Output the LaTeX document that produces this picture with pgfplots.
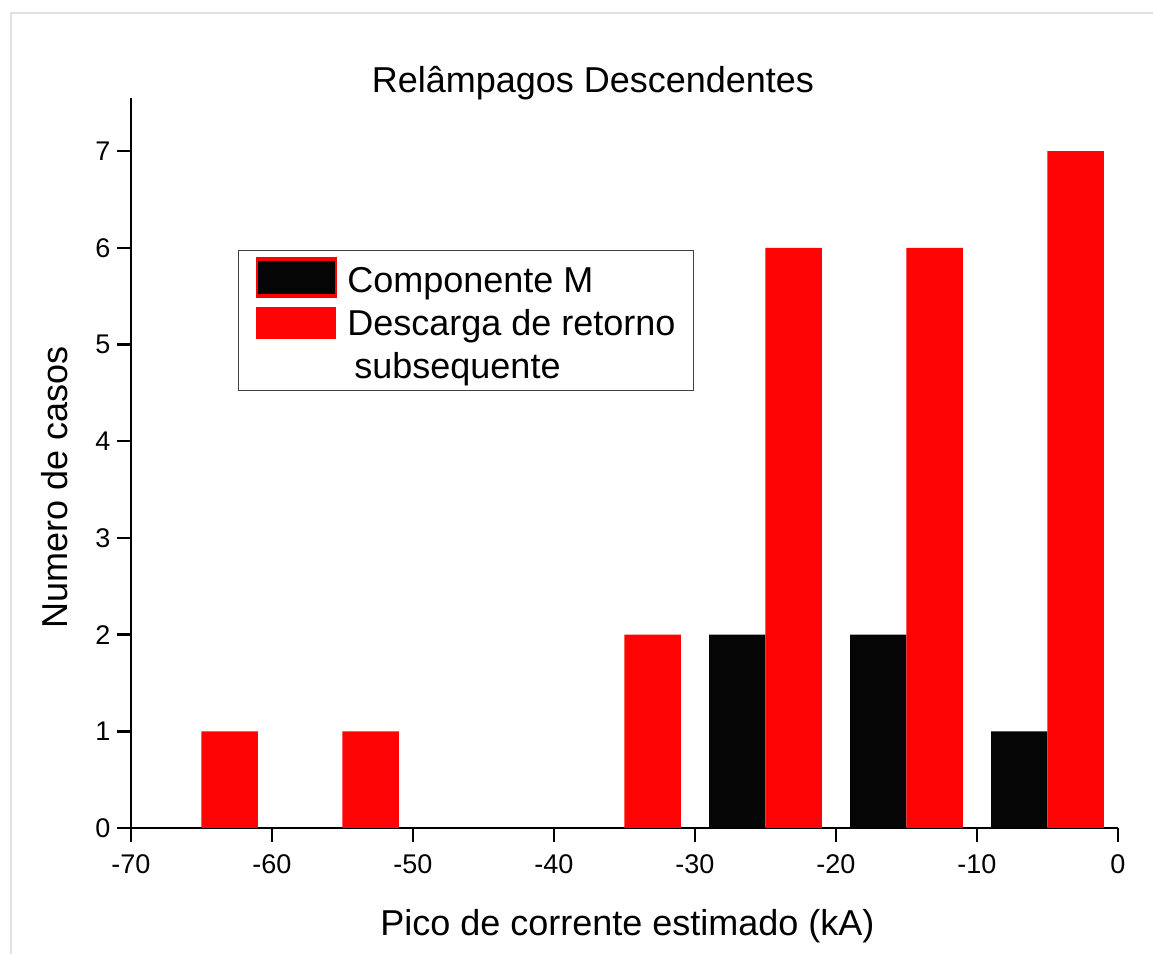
\documentclass[border=0pt]{standalone}
\usepackage{fontspec}
\setmainfont{Liberation Sans}
\usepackage{pgfplots}
\pgfplotsset{compat=1.18}
\definecolor{barred}{RGB}{255,4,4}
\definecolor{barblack}{RGB}{5,5,5}
\begin{document}
\begin{tikzpicture}
\useasboundingbox (-65.5pt,-63pt) rectangle (511pt,414pt);
\draw[black!12, line width=1.2pt] (-60pt,-63pt) -- (-60pt,407.5pt) -- (511pt,407.5pt);
\begin{axis}[
  at={(0,0)}, anchor=south west, scale only axis,
  width=493.5pt, height=365pt,
  xmin=-70, xmax=0, ymin=0, ymax=7.55,
  axis x line=bottom, axis y line=left,
  axis line style={-, line width=1.2pt, black},
  xtick={-70,-60,...,0}, ytick={0,1,...,7},
  minor tick num=0,
  tick align=outside, major tick length=6.75pt,
  tick style={line width=1.2pt, black},
  tick label style={font=\fontsize{13.5}{15}\selectfont},
  xticklabel style={yshift=-3pt},
  /pgf/number format/assume math mode=true,
  title={Relâmpagos Descendentes},
  every axis title/.style={at={(axis description cs:0.468,1.0206)}, anchor=center, font=\fontsize{18}{21}\selectfont},
  xlabel={Pico de corrente estimado (kA)},
  xlabel style={at={(axis description cs:0.503,-0.1345)}, anchor=center, font=\fontsize{18}{21}\selectfont},
  ylabel={Numero de casos},
  ylabel style={at={(axis description cs:-0.077,0.467)}, anchor=center, font=\fontsize{18}{21}\selectfont},
  legend style={at={(axis description cs:0.108,0.792)}, anchor=north west,
    draw=black!75, line width=0.8pt, inner xsep=9pt, inner ysep=5pt,
    row sep=4.5pt, column sep=5.5pt,
    font=\fontsize{18}{21}\selectfont,
    nodes={inner sep=0pt, text height=16pt, text depth=1pt}},
  legend cell align=left,
]
\addplot[ybar, bar width=4, bar shift=0pt, fill=barblack, draw=none,
  legend image code/.code={
    \path (0pt,0pt) -- (40pt,0pt);
    \draw[overlay, red, line width=0.5pt] (0pt,-10pt) rectangle (40pt,10pt);
    \fill[overlay, barblack] (0.6pt,-8.2pt) rectangle (39.4pt,8.2pt);}]
  coordinates {(-27,2) (-17,2) (-7,1)};
\addlegendentry{Componente M}
\addplot[ybar, bar width=4, bar shift=0pt, fill=barred, draw=none,
  legend image code/.code={
    \path (0pt,0pt) -- (40pt,0pt);
    \fill[overlay, barred] (0pt,-9pt) rectangle (40pt,7pt);}]
  coordinates {(-63,1) (-53,1) (-33,2) (-23,6) (-13,6) (-3,7)};
\addlegendentry{Descarga de retorno}
\addlegendimage{empty legend}
\addlegendentry{\hspace{3.5pt}subsequente}
\end{axis}
\end{tikzpicture}
\end{document}
